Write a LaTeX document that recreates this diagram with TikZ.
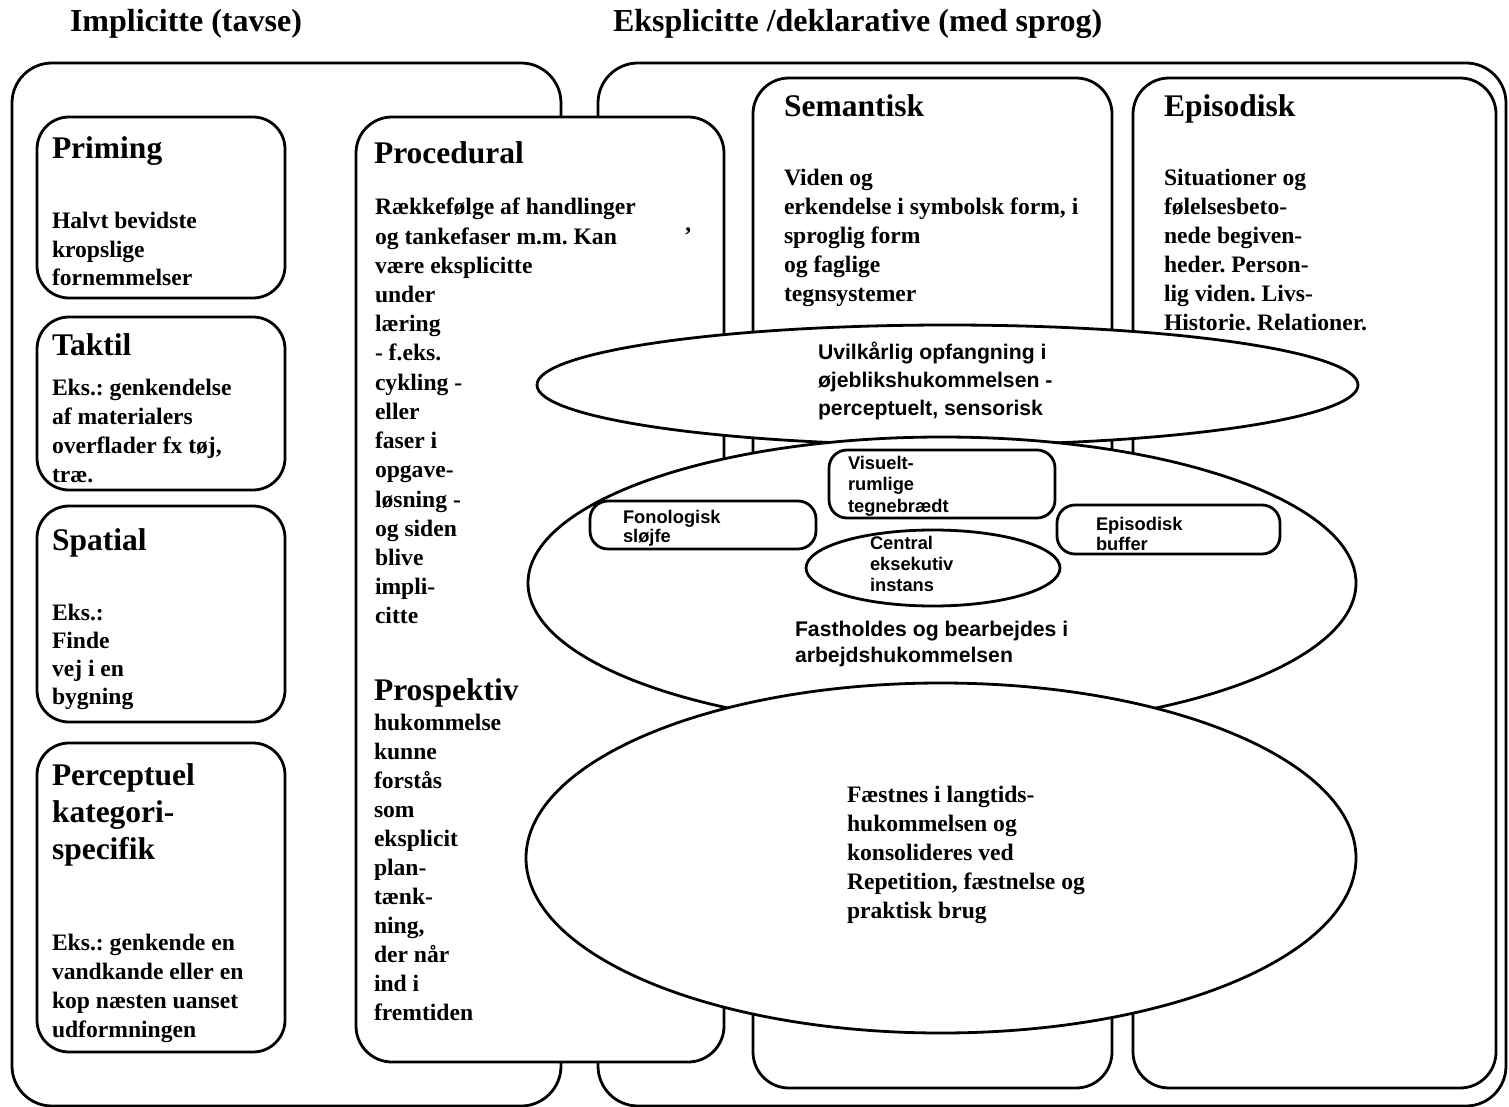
\documentclass[tikz,border=0pt]{standalone}
\usepackage{fontspec}
\setmainfont{Liberation Serif}
\newfontfamily\arialf{Liberation Sans}
\frenchspacing
\newcommand\ml[1]{\parbox[t]{14cm}{\raggedright #1}}
\tikzset{
  shp/.style={draw, line width=1.4pt, fill=white},
  txt/.style={anchor=base west, inner sep=0pt, outer sep=0pt, yshift=-1pt},
  ttl/.style={txt, font=\fontsize{16}{19}\selectfont\bfseries},
  hd/.style={txt, font=\fontsize{15.75}{18.5}\selectfont\bfseries},
  bd/.style={txt, font=\fontsize{11.8}{14.5}\selectfont\bfseries},
  sa/.style={txt, font=\arialf\bfseries\fontsize{10.6}{14}\selectfont},
  sb/.style={txt, font=\arialf\bfseries\fontsize{9.15}{9.5}\selectfont},
}
\begin{document}
\begin{tikzpicture}[x=0.5pt, y=-0.5pt]
\useasboundingbox (0,0) rectangle (1509,1107);
% outer boxes
\draw[shp, rounded corners=20pt] (12,63) rectangle (561,1106);
\draw[shp, rounded corners=20pt] (598,63) rectangle (1506,1106);
% left column boxes
\draw[shp, rounded corners=16pt] (37,117) rectangle (285,298);
\draw[shp, rounded corners=16pt] (37,317) rectangle (285,490);
\draw[shp, rounded corners=16pt] (37,506) rectangle (285,722);
\draw[shp, rounded corners=16pt] (37,743) rectangle (285,1052);
% procedural
\draw[shp, rounded corners=18pt] (356,117) rectangle (724,1062);
% semantisk / episodisk
\draw[shp, rounded corners=18pt] (753,78) rectangle (1112,1088);
\draw[shp, rounded corners=18pt] (1133,78) rectangle (1496,1088);
% ellipses
\draw[shp] (947.5,385) ellipse [x radius=205.25pt, y radius=30pt];
\draw[shp] (942,583) ellipse [x radius=207pt, y radius=73pt];
\draw[shp] (941,858) ellipse [x radius=207.5pt, y radius=87.5pt];
% working memory components
\draw[shp, rounded corners=9pt] (590,501) rectangle (816,549);
\draw[shp, rounded corners=9pt] (829,450) rectangle (1055,518);
\draw[shp, rounded corners=9pt] (1057,505) rectangle (1280,554);
\draw[shp] (933,568) ellipse [x radius=63.5pt, y radius=19pt];

% titles
\node[ttl] (t1) at (70,30) {Implicitte (tavse)};
\node[ttl] (t2) at (613,30) {Eksplicitte /deklarative (med sprog)};

% left column texts
\node[hd] (h1) at (52,157) {Priming};
\node[bd, font=\fontsize{11.8}{14.2}\selectfont\bfseries] (b1) at (52,227) {\ml{Halvt bevidste\\kropslige\\fornemmelser}};
\node[hd] (h2) at (52,353) {Taktil};
\node[bd] (b2) at (52,393) {\ml{Eks.: genkendelse\\af materialers\\overflader fx tøj,\\træ.}};
\node[hd] (h3) at (52,548) {Spatial};
\node[bd, font=\fontsize{11.8}{14.1}\selectfont\bfseries] (b3) at (52,618) {\ml{Eks.:\\Finde\\vej i en\\bygning}};
\node[hd] (h4) at (52,783) {\ml{Perceptuel\\kategori-\\specifik}};
\node[bd] (b4) at (52,948) {\ml{Eks.: genkende en\\vandkande eller en\\kop næsten uanset\\udformningen}};

% procedural
\node[hd] (h5) at (374,162) {Procedural};
\node[bd, font=\fontsize{11.8}{14.6}\selectfont\bfseries] (b5) at (375,213) {\ml{Rækkefølge af handlinger\\og tankefaser m.m. Kan\\være eksplicitte\\under\\læring\\- f.eks.\\cykling -\\eller\\faser i\\opgave-\\løsning -\\og siden\\blive\\impli-\\citte}};
\node[bd] (ap) at (684,242) {’};
\node[hd] (h6) at (374,698) {Prospektiv};
\node[bd] (b6) at (374,728) {\ml{hukommelse\\kunne\\forstås\\som\\eksplicit\\plan-\\tænk-\\ning,\\der når\\ind i\\fremtiden}};

% semantisk / episodisk
\node[hd] (h7) at (784,115) {Semantisk};
\node[bd, font=\fontsize{11.8}{14.4}\selectfont\bfseries] (b7) at (784,184) {\ml{Viden og\\erkendelse i symbolsk form, i\\sproglig form\\og faglige\\tegnsystemer}};
\node[hd] (h8) at (1164,115) {Episodisk};
\node[bd] (b8) at (1164,184) {\ml{Situationer og\\følelsesbeto-\\nede begiven-\\heder. Person-\\lig viden. Livs-\\Historie. Relationer.}};

% ellipse texts
\node[sa] (e1) at (818,357) {\ml{Uvilkårlig opfangning i\\øjeblikshukommelsen -\\perceptuelt, sensorisk}};
\node[sa, font=\arialf\bfseries\fontsize{10.6}{13}\selectfont] (e2) at (795,634) {\ml{Fastholdes og bearbejdes i\\arbejdshukommelsen}};
\node[bd, font=\fontsize{11.8}{14.5}\selectfont\bfseries] (e3) at (847,800) {\ml{Fæstnes i langtids-\\hukommelsen og\\konsolideres ved\\Repetition, fæstnelse og\\praktisk brug}};

% components
\node[sb] (c1) at (623,521) {\ml{Fonologisk\\sløjfe}};
\node[sb, font=\arialf\bfseries\fontsize{9.15}{10.75}\selectfont] (c2) at (848,467) {\ml{Visuelt-\\rumlige\\tegnebrædt}};
\node[sb, font=\arialf\bfseries\fontsize{9.15}{10.5}\selectfont] (c3) at (870,547) {\ml{Central\\eksekutiv\\instans}};
\node[sb, font=\arialf\bfseries\fontsize{9.15}{10}\selectfont] (c4) at (1096,528) {\ml{Episodisk\\buffer}};
\end{tikzpicture}
\end{document}
